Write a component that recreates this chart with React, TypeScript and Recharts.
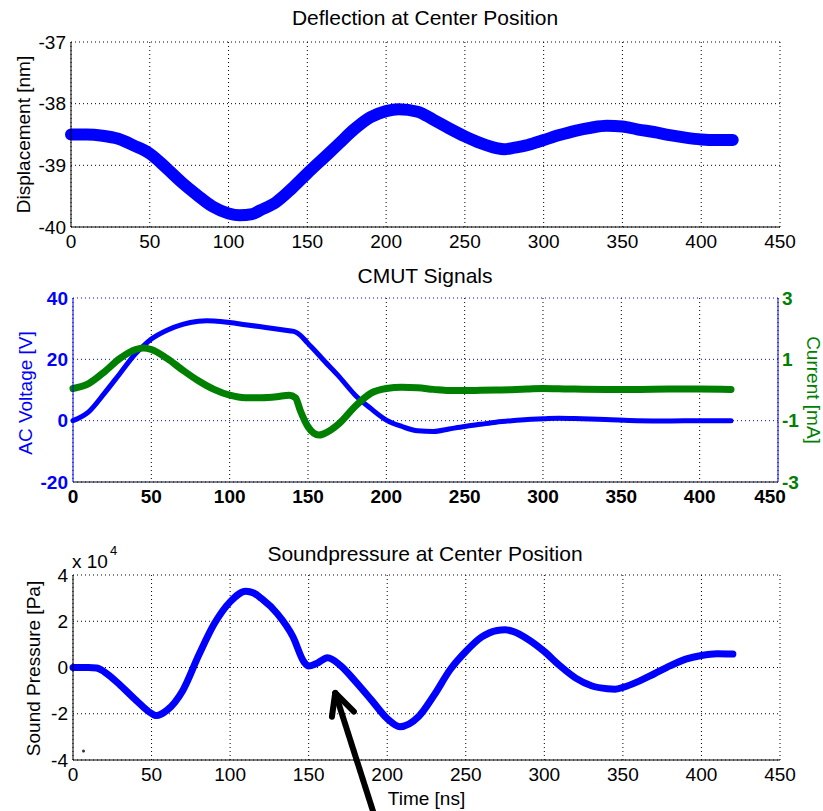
import {
  LineChart,
  Line,
  XAxis,
  YAxis,
  CartesianGrid,
  ReferenceLine,
  ReferenceDot,
  Label,
} from "recharts";

// time axis ticks (ns), shared by all three panels
const timeTicks = [0, 50, 100, 150, 200, 250, 300, 350, 400, 450];

// panel 1: deflection at center position
const deflTime = [0, 10, 20, 30, 40, 50, 60, 70, 80, 90, 100, 107, 115, 120, 130, 140, 150, 160, 170, 180, 190, 200, 208, 220, 230, 240, 250, 260, 270, 275, 280, 290, 300, 310, 320, 330, 340, 350, 360, 370, 380, 390, 400, 410, 420];
const deflection = [-38.5, -38.5, -38.52, -38.57, -38.68, -38.81, -39.03, -39.27, -39.48, -39.67, -39.78, -39.81, -39.79, -39.73, -39.6, -39.38, -39.13, -38.89, -38.65, -38.41, -38.22, -38.12, -38.09, -38.13, -38.26, -38.4, -38.53, -38.64, -38.72, -38.74, -38.72, -38.67, -38.59, -38.51, -38.44, -38.39, -38.36, -38.37, -38.42, -38.46, -38.51, -38.55, -38.58, -38.59, -38.59];
const deflTicks = [-40, -39, -38, -37];

// panel 2: CMUT signals
const sigTime = [0, 10, 20, 30, 40, 45, 50, 60, 70, 80, 85, 90, 100, 110, 120, 130, 138, 142, 145, 150, 157, 160, 170, 180, 190, 200, 210, 220, 230, 240, 250, 260, 270, 280, 290, 300, 310, 320, 340, 360, 380, 400, 420];
const acVoltage = [0, 2.9, 8.9, 15.4, 21.9, 24.4, 26.6, 29.5, 31.4, 32.4, 32.6, 32.5, 32.0, 31.3, 30.6, 29.9, 29.3, 28.9, 27.9, 25.2, 21.4, 19.7, 14.3, 8.4, 4.0, 0.2, -1.9, -3.3, -3.5, -2.7, -1.9, -1.2, -0.5, 0, 0.4, 0.6, 0.8, 0.7, 0.4, 0, -0.1, 0, 0];
const current = [0.05, 0.21, 0.59, 1.03, 1.32, 1.37, 1.32, 1.03, 0.65, 0.3, 0.15, 0.02, -0.17, -0.25, -0.25, -0.22, -0.17, -0.25, -0.66, -1.2, -1.47, -1.43, -1.09, -0.54, -0.11, 0.05, 0.09, 0.07, 0.02, -0.02, -0.02, -0.01, 0, 0.01, 0.03, 0.05, 0.04, 0.03, 0.02, 0.02, 0.03, 0.03, 0.02];
const voltTicks = [-20, 0, 20, 40];
const currTicks = [-3, -1, 1, 3];

// panel 3: sound pressure (x 10^4 Pa)
const spTime = [0, 10, 15, 20, 30, 40, 50, 53, 60, 70, 80, 90, 100, 110, 115, 120, 130, 140, 147, 150, 155, 162, 170, 180, 190, 200, 208, 220, 230, 240, 250, 260, 270, 275, 280, 290, 300, 310, 320, 330, 340, 345, 350, 360, 370, 380, 390, 400, 410, 420];
const soundPressure = [0, 0, -0.02, -0.19, -0.76, -1.41, -1.99, -2.08, -1.84, -0.98, 0.53, 1.9, 2.84, 3.3, 3.22, 2.98, 2.33, 1.33, 0.24, 0.06, 0.17, 0.42, 0.1, -0.62, -1.41, -2.21, -2.56, -2.12, -1.18, -0.1, 0.69, 1.31, 1.6, 1.63, 1.56, 1.2, 0.69, 0.07, -0.46, -0.79, -0.92, -0.94, -0.86, -0.6, -0.27, 0.07, 0.36, 0.52, 0.59, 0.58];
const spTicks = [-4, -2, 0, 2, 4];

// annotation arrow in panel 3 (time, pressure)
const arrowShaft = [{ x: 192.3, y: -6.5 }, { x: 166.9, y: -1.1 }];
const arrowLeftWing = [{ x: 164.8, y: -2.13 }, { x: 166.9, y: -1.1 }];
const arrowRightWing = [{ x: 178.8, y: -1.91 }, { x: 166.9, y: -1.1 }];

const BLUE = "#0000ff";
const GREEN = "#008000";
const FONT = "'Liberation Sans', Arial, Helvetica, sans-serif";

const deflData = deflTime.map((t, i) => ({ t, v: deflection[i] }));
const sigData = sigTime.map((t, i) => ({ t, u: acVoltage[i], c: current[i] }));
const spData = spTime.map((t, i) => ({ t, p: soundPressure[i] }));

const tickStyle = { fill: "#000", fontSize: 19, fontFamily: FONT };
const boldTick = (color: string) => ({ fill: color, fontSize: 19, fontFamily: FONT, fontWeight: 700 });

// middle panel: last x label is nudged left so it clears the right-axis "-3"
function MidXTick(props: any) {
  const { x, y, payload } = props;
  const shift = payload.value === 450 ? -8 : 0;
  return (
    <text x={x + shift} y={y} dy="0.71em" textAnchor="middle" fill="#000" fontSize={19} fontWeight={700} fontFamily={FONT}>
      {payload.value}
    </text>
  );
}

export default function App() {
  return (
    <div style={{ position: "absolute", left: 0, top: 0, width: 823, height: 811, background: "#fff", fontFamily: FONT }}>
      {/* Deflection */}
      <div style={{ position: "absolute", left: 0, top: 0 }}>
        <LineChart width={823} height={260} data={deflData} margin={{ top: 42, right: 43, bottom: 3, left: 0 }}>
          <CartesianGrid stroke="#000" strokeDasharray="1 3" />
          <XAxis dataKey="t" type="number" domain={[0, 450]} ticks={timeTicks} height={30} tickSize={0} tickMargin={8} tick={tickStyle} axisLine={{ stroke: "#000" }} />
          <XAxis xAxisId="top" orientation="top" type="number" domain={[0, 450]} height={0} tick={false} tickLine={false} axisLine={{ stroke: "#000" }} />
          <YAxis type="number" domain={[-40, -37]} ticks={deflTicks} width={71} tickSize={0} tickMargin={5} tick={tickStyle} axisLine={{ stroke: "#000" }}>
            <Label value="Displacement [nm]" angle={-90} position="center" dx={-12} style={{ fontSize: 19, fill: "#000", fontFamily: FONT }} />
          </YAxis>
          <YAxis yAxisId="r" orientation="right" type="number" domain={[-40, -37]} width={0} tick={false} tickLine={false} axisLine={{ stroke: "#000" }} />
          <Line dataKey="v" stroke={BLUE} strokeWidth={12} strokeLinecap="round" dot={false} type="monotone" isAnimationActive={false} />
        </LineChart>
      </div>

      {/* CMUT signals */}
      <div style={{ position: "absolute", left: 0, top: 260 }}>
        <LineChart width={823} height={270} data={sigData} margin={{ top: 38, right: 0, bottom: 18, left: 0 }}>
          <CartesianGrid stroke="#000" strokeDasharray="1 3" horizontal={false} />
          <CartesianGrid stroke={BLUE} strokeDasharray="1 3" vertical={false} />
          <XAxis dataKey="t" type="number" domain={[0, 450]} ticks={timeTicks} height={30} tickSize={0} tickMargin={8} tick={<MidXTick />} axisLine={{ stroke: "#000" }} />
          <XAxis xAxisId="top" orientation="top" type="number" domain={[0, 450]} height={0} tick={false} tickLine={false} axisLine={{ stroke: "#555" }} />
          <YAxis type="number" domain={[-20, 40]} ticks={voltTicks} width={73} tickSize={0} tickMargin={5} tick={boldTick(BLUE)} axisLine={{ stroke: BLUE }}>
            <Label value="AC Voltage [V]" angle={-90} position="center" dx={-11} dy={3} style={{ fontSize: 19, fill: BLUE, fontFamily: FONT }} />
          </YAxis>
          <YAxis yAxisId="right" orientation="right" type="number" domain={[-3, 3]} ticks={currTicks} width={45} tickSize={0} tickMargin={4} tick={boldTick(GREEN)} axisLine={{ stroke: BLUE }}>
            <Label value="Current [mA]" angle={90} position="center" dx={13} style={{ fontSize: 19, fill: GREEN, fontFamily: FONT }} />
          </YAxis>
          <Line dataKey="u" stroke={BLUE} strokeWidth={5} strokeLinecap="round" dot={false} type="monotone" isAnimationActive={false} />
          <Line dataKey="c" yAxisId="right" stroke={GREEN} strokeWidth={7} strokeLinecap="round" dot={false} type="monotone" isAnimationActive={false} />
        </LineChart>
      </div>

      {/* Sound pressure */}
      <div style={{ position: "absolute", left: 0, top: 530 }}>
        <LineChart width={823} height={281} data={spData} margin={{ top: 45, right: 43, bottom: 6, left: 0 }}>
          <CartesianGrid stroke="#000" strokeDasharray="1 3" />
          <XAxis dataKey="t" type="number" domain={[0, 450]} ticks={timeTicks} height={45} tickSize={0} tickMargin={8} tick={tickStyle} axisLine={{ stroke: "#000" }}>
            <Label value="Time [ns]" position="insideBottom" offset={0} style={{ fontSize: 19, fill: "#000", fontFamily: FONT }} />
          </XAxis>
          <XAxis xAxisId="top" orientation="top" type="number" domain={[0, 450]} height={0} tick={false} tickLine={false} axisLine={{ stroke: "#000" }} />
          <YAxis type="number" domain={[-4, 4]} ticks={spTicks} width={73} tickSize={0} tickMargin={5} tick={tickStyle} axisLine={{ stroke: "#000" }}>
            <Label value="Sound Pressure [Pa]" angle={-90} position="center" dx={-3} dy={1} style={{ fontSize: 19, fill: "#000", fontFamily: FONT }} />
          </YAxis>
          <YAxis yAxisId="r" orientation="right" type="number" domain={[-4, 4]} width={0} tick={false} tickLine={false} axisLine={{ stroke: "#000" }} />
          <Line dataKey="p" stroke={BLUE} strokeWidth={7} strokeLinecap="round" dot={false} type="monotone" isAnimationActive={false} />
          <ReferenceDot x={6.7} y={-3.61} r={1.5} fill="#333" stroke="none" ifOverflow="visible" />
          <ReferenceLine segment={arrowShaft} stroke="#000" strokeWidth={6} ifOverflow="visible" />
          <ReferenceLine segment={arrowLeftWing} stroke="#000" strokeWidth={6} strokeLinecap="round" ifOverflow="visible" />
          <ReferenceLine segment={arrowRightWing} stroke="#000" strokeWidth={6} strokeLinecap="round" ifOverflow="visible" />
        </LineChart>
      </div>

      {/* titles */}
      <svg width={823} height={811} style={{ position: "absolute", left: 0, top: 0, pointerEvents: "none" }}>
        <g fontFamily={FONT} fill="#000">
          <text x={425} y={25} fontSize={21} textAnchor="middle">Deflection at Center Position</text>
          <text x={425} y={283} fontSize={21} textAnchor="middle">CMUT Signals</text>
          <text x={425} y={561} fontSize={21} textAnchor="middle">Soundpressure at Center Position</text>
          <text x={72} y={568} fontSize={19}>x 10</text>
          <text x={110} y={555} fontSize={13}>4</text>
        </g>
      </svg>
    </div>
  );
}
